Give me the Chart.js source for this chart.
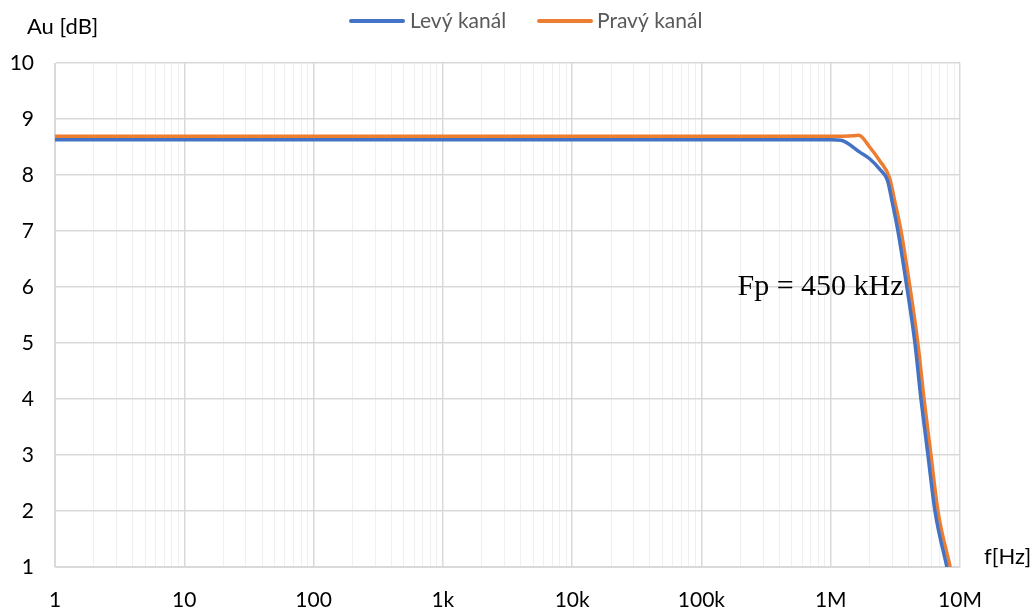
<!DOCTYPE html>
<html>
<head>
<meta charset="utf-8">
<script src="https://cdn.jsdelivr.net/npm/chart.js@4/dist/chart.umd.min.js"></script>
<style>
html,body{margin:0;padding:0;background:#fff;}
canvas{display:block;}
</style>
</head>
<body>
<canvas id="c" width="1035" height="611"></canvas>
<script>
// ---- data ----
const seriesNames = ['Levý kanál', 'Pravý kanál'];
const levyFreq = [1, 10, 100, 1e3, 1e4, 1e5, 1e6, 1.2e6, 1.7e6, 2.0e6, 2.4e6, 2.75e6, 3.0e6, 3.31e6, 3.88e6, 4.48e6, 4.99e6, 5.65e6, 6.4e6, 7.92e6];
const levyGain = [8.63, 8.63, 8.63, 8.63, 8.63, 8.63, 8.63, 8.62, 8.40, 8.29, 8.10, 7.90, 7.50, 7.0, 6.0, 5.0, 4.0, 3.0, 2.0, 1.0];
const pravyFreq = [1, 10, 100, 1e3, 1e4, 1e5, 1e6, 1.5e6, 1.65e6, 2.0e6, 2.4e6, 2.85e6, 3.15e6, 3.5e6, 4.1e6, 4.72e6, 5.27e6, 5.96e6, 6.75e6, 8.4e6];
const pravyGain = [8.69, 8.69, 8.69, 8.69, 8.69, 8.69, 8.69, 8.70, 8.71, 8.50, 8.25, 7.95, 7.50, 7.0, 6.0, 5.0, 4.0, 3.0, 2.0, 1.0];
const xTickValues = [1, 10, 100, 1e3, 1e4, 1e5, 1e6, 1e7];
const xTickLabels = ['1', '10', '100', '1k', '10k', '100k', '1M', '10M'];
const yMin = 1, yMax = 10;
const yTitle = 'Au [dB]';
const xTitle = 'f[Hz]';
const annotText = 'Fp = 450 kHz';
const annotPos = {x: 1.9e5, y: 6};
const colors = ['#4472C4', '#ED7D31'];

function toPts(fs, gs){ return fs.map((f,i)=>({x:f, y:gs[i]})); }

const FONT = 'Lato, "Open Sans", sans-serif';

const extras = {
  id: 'extras',
  afterDraw(chart){
    const ctx = chart.ctx;
    const xs = chart.scales.x, ys = chart.scales.y;
    ctx.save();
    // legend
    ctx.font = '21px ' + FONT;
    ctx.textBaseline = 'middle';
    ctx.textAlign = 'left';
    const legendItems = [{x0:351, x1:403, tx:410}, {x0:539, x1:591, tx:597}];
    chart.data.datasets.forEach((ds, i) => {
      const it = legendItems[i];
      ctx.strokeStyle = ds.borderColor;
      ctx.lineWidth = 4;
      ctx.lineCap = 'round';
      ctx.beginPath(); ctx.moveTo(it.x0, 21); ctx.lineTo(it.x1, 21); ctx.stroke();
      ctx.fillStyle = '#595959';
      ctx.fillText(ds.label, it.tx, 21);
    });
    // axis titles
    ctx.fillStyle = '#000';
    ctx.font = '22px ' + FONT;
    ctx.fillText(yTitle, 27, 27);
    ctx.fillText(xTitle, 984, 557);
    // annotation
    ctx.font = '30px "Liberation Serif", "Times New Roman", serif';
    ctx.fillText(annotText, xs.getPixelForValue(annotPos.x), ys.getPixelForValue(annotPos.y));
    ctx.restore();
  }
};

function isMajor(v){ const l = Math.log10(v); return Math.abs(l - Math.round(l)) < 1e-9; }

new Chart(document.getElementById('c'), {
  type: 'line',
  data: {
    datasets: [
      {label: seriesNames[0], data: toPts(levyFreq, levyGain), borderColor: colors[0], backgroundColor: colors[0], borderWidth: 3.5, pointRadius: 0, cubicInterpolationMode: 'monotone'},
      {label: seriesNames[1], data: toPts(pravyFreq, pravyGain), borderColor: colors[1], backgroundColor: colors[1], borderWidth: 3.5, pointRadius: 0, cubicInterpolationMode: 'monotone'}
    ]
  },
  options: {
    responsive: false,
    animation: false,
    devicePixelRatio: 1,
    layout: {padding: {left: 0, right: 75, top: 63, bottom: 0}},
    plugins: {legend: {display: false}, tooltip: {enabled: false}},
    scales: {
      x: {
        type: 'logarithmic',
        min: xTickValues[0], max: xTickValues[xTickValues.length-1],
        afterFit(s){ s.height = 44; },
        afterBuildTicks(s){
          const t = [];
          for (let e = 0; e < xTickValues.length - 1; e++) {
            for (let m = 1; m <= 9; m++) t.push({value: m * xTickValues[e]});
          }
          t.push({value: xTickValues[xTickValues.length-1]});
          s.ticks = t;
        },
        border: {color: '#d9d9d9', width: 1},
        grid: {
          drawTicks: false,
          color: c => (c.tick && isMajor(c.tick.value)) ? '#d9d9d9' : '#efefef',
          lineWidth: c => (c.tick && isMajor(c.tick.value)) ? 1.5 : 1
        },
        ticks: {
          autoSkip: false, maxRotation: 0, padding: 21,
          color: '#000', font: {family: FONT, size: 21},
          callback(v){ const i = xTickValues.indexOf(v); return i >= 0 ? xTickLabels[i] : ''; }
        }
      },
      y: {
        type: 'linear', min: yMin, max: yMax,
        afterFit(s){ s.width = 55; },
        border: {color: '#d9d9d9', width: 1},
        grid: {drawTicks: false, color: '#d9d9d9', lineWidth: 1.5},
        ticks: {stepSize: 1, padding: 21, color: '#000', font: {family: FONT, size: 21}}
      }
    }
  },
  plugins: [extras]
});
</script>
</body>
</html>
